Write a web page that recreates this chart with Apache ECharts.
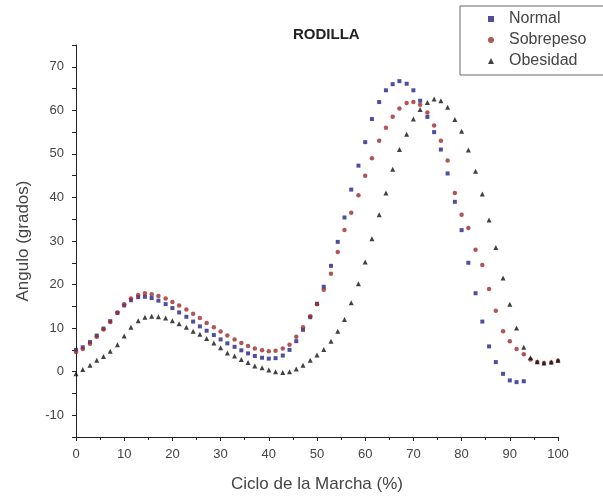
<!DOCTYPE html>
<html>
<head>
<meta charset="utf-8">
<script src="https://cdn.jsdelivr.net/npm/echarts@6/dist/echarts.min.js"></script>
<style>
html,body{margin:0;padding:0;background:#fff;}
#chart{width:603px;height:498px;}
</style>
</head>
<body>
<div id="chart"></div>
<script>
// Gait cycle (%) sample positions
var cycle = [0,1.4,2.9,4.3,5.7,7.1,8.6,10,11.4,12.9,
  14.3,15.7,17.1,18.6,20,21.4,22.9,24.3,25.7,27.1,
  28.6,30,31.4,32.9,34.3,35.7,37.1,38.6,40,41.4,
  42.9,44.3,45.7,47.1,48.6,50,51.4,52.9,54.3,55.7,
  57.1,58.6,60,61.4,62.9,64.3,65.7,67.1,68.6,70,
  71.4,72.9,74.3,75.7,77.1,78.6,80,81.4,82.9,84.3,
  85.7,87.1,88.6,90,91.4,92.9,94.3,95.7,97.1,98.6,
  100];

var normal = [5,5.6,6.8,8.3,9.9,11.6,13.5,15.2,16.4,17.1,
  17.2,16.9,16.3,15.5,14.6,13.6,12.6,11.5,10.4,9.4,
  8.4,7.4,6.5,5.7,4.9,4.2,3.6,3.2,3,3.1,
  3.7,5,7,9.6,12.5,15.6,19.5,24.3,29.8,35.4,
  41.8,47.3,52.7,58,61.9,64.6,66,66.7,66.1,64.6,
  62.2,58.5,55,51,45.5,39,32.5,25,18,11.5,
  5.8,2.2,-0.5,-2,-2.4,-2.2,null,null,null,null,
  null];

var sobrepeso = [4.5,5.2,6.4,8,9.7,11.4,13.6,15.5,16.8,17.6,
  18,17.8,17.4,16.8,16,15.2,14.3,13.3,12.3,11.2,
  10.2,9.2,8.3,7.4,6.6,5.9,5.3,4.9,4.7,4.8,
  5.3,6.2,8,10.2,12.7,15.5,18.8,22.5,27.5,32.5,
  36.5,40.5,45,49,53,56,58.5,60.4,61.7,61.9,
  61.3,59.5,56.5,53,48.5,41,36,33,28,24.5,
  19,14,9.3,7,5.2,4,2.8,2.2,2,2.1,
  2.5];

var obesidad = [-0.5,0.5,1.5,2.6,3.5,4.7,6.2,8.2,10.2,11.7,
  12.5,12.7,12.6,12.3,11.7,11,10.2,9.3,8.6,7.6,
  6.6,5.5,4.3,3.6,2.8,2.1,1.3,0.9,0.4,0,
  -0.2,0,0.6,1.5,2.6,3.8,5.1,7,9.3,12,
  15.8,20.2,25.2,30.5,36,41,46.5,51,54.5,58,
  60.2,61.8,62.6,62.2,60.7,57.9,55.2,50.9,46,40.8,
  34.8,28.5,21.5,15.5,10,5.6,3.2,2.3,2,2.2,
  2.6];

var seriesNames = ['Normal','Sobrepeso','Obesidad'];
var xTicks = [0,10,20,30,40,50,60,70,80,90,100];

function pairs(vals){
  var out = [];
  for (var i = 0; i < cycle.length; i++) {
    if (vals[i] !== null && vals[i] !== undefined) out.push([cycle[i], vals[i]]);
  }
  return out;
}

var chart = echarts.init(document.getElementById('chart'));
var font = 'Liberation Sans, Arial, sans-serif';
chart.setOption({
  backgroundColor: '#fff',
  animation: false,
  title: {
    text: 'RODILLA',
    left: 288, top: 22,
    textStyle: {fontFamily: font, fontSize: 15, fontWeight: 'bold', color: '#222'}
  },
  legend: {
    orient: 'vertical',
    left: 460, top: 6,
    padding: [5, 60, 6, 28],
    itemGap: 5,
    itemWidth: 6, itemHeight: 6,
    borderColor: '#666', borderWidth: 1,
    textStyle: {fontFamily: font, fontSize: 16, color: '#444', padding: [0, 0, 0, 10]},
    data: seriesNames
  },
  grid: {left: 76, right: 45, top: 45, bottom: 58},
  xAxis: {
    type: 'value', min: 0, max: 100, interval: 10,
    name: 'Ciclo de la Marcha (%)', nameLocation: 'middle', nameGap: 39,
    nameTextStyle: {fontFamily: font, fontSize: 17, color: '#444'},
    axisLine: {show: true, onZero: false, lineStyle: {color: '#222', width: 1}},
    axisTick: {show: true, length: 4, lineStyle: {color: '#222'}},
    minorTick: {show: true, splitNumber: 2, length: 3, lineStyle: {color: '#222'}},
    axisLabel: {fontFamily: font, fontSize: 13, color: '#444', margin: 11,
      formatter: function(v){ return xTicks.indexOf(v) >= 0 ? String(v) : ''; }},
    splitLine: {show: false}
  },
  yAxis: {
    type: 'value', min: -15, max: 75, interval: 5,
    name: 'Angulo (grados)', nameLocation: 'middle', nameGap: 44, nameRotate: 90,
    nameTextStyle: {fontFamily: font, fontSize: 17, color: '#444'},
    axisLine: {show: true, onZero: false, lineStyle: {color: '#222', width: 1}},
    axisTick: {show: true, length: 4, lineStyle: {color: '#222'}},
    axisLabel: {fontFamily: font, fontSize: 13, color: '#444', margin: 12,
      formatter: function(v){ return (v % 10 === 0) ? String(v) : ''; }},
    splitLine: {show: false}
  },
  series: [
    {name: seriesNames[0], type: 'scatter', symbol: 'rect', symbolSize: 4,
      itemStyle: {color: '#22228a'}, data: pairs(normal)},
    {name: seriesNames[1], type: 'scatter', symbol: 'circle', symbolSize: 4.5,
      itemStyle: {color: '#9e2a2a'}, data: pairs(sobrepeso)},
    {name: seriesNames[2], type: 'scatter', symbol: 'triangle', symbolSize: 5,
      itemStyle: {color: '#111'}, data: pairs(obesidad)}
  ]
});
</script>
</body>
</html>
